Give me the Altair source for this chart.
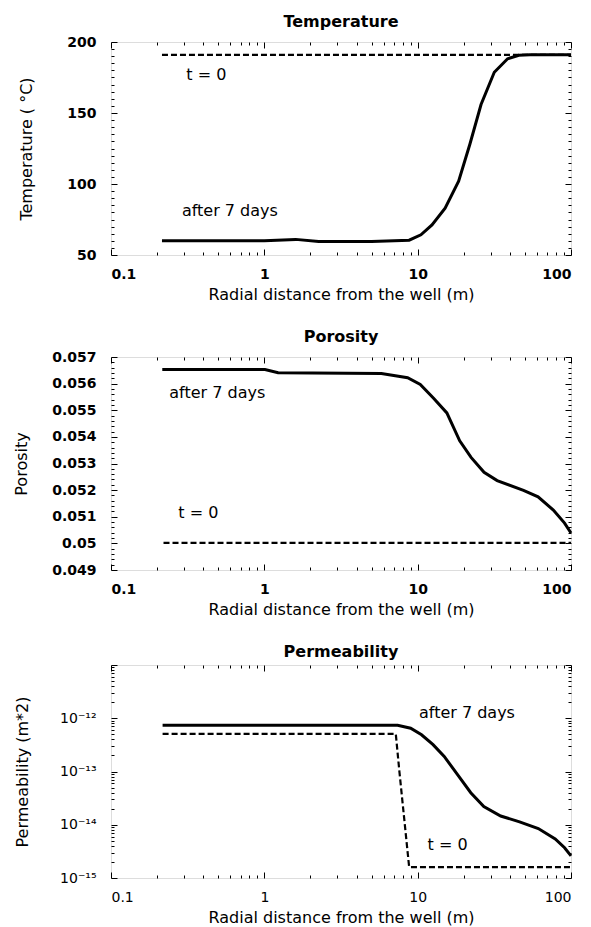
import altair as alt
import pandas as pd
import math

FONT = "DejaVu Sans"
W, H = 460, 213

# ---------------- data ----------------
# Temperature
temp_after_x = [0.215, 1.0, 1.6, 2.26, 5.0, 8.8, 10.5, 12.4, 15.1, 18.5, 21.9, 25.9, 31.6, 38.6, 45.7, 54.0, 100.0]
temp_after_y = [60.0, 60.0, 61.0, 59.5, 59.5, 60.4, 64.2, 71.2, 83.0, 102.0, 128.0, 156.0, 178.7, 188.2, 190.6, 191.0, 191.0]
temp_init_x = [0.215, 100.0]
temp_init_y = [191.0, 191.0]
temp_lab_text = ["t = 0", "after 7 days"]
temp_lab_x = [0.31, 0.29]
temp_lab_y = [177.0, 81.0]
temp_ticks = [50, 100, 150, 200]

# Porosity
por_after_x = [0.216, 1.01, 1.23, 5.8, 8.6, 10.4, 12.7, 15.5, 18.8, 22.3, 27.1, 33.0, 49.0, 61.0, 76.7, 90.8, 100.0]
por_after_y = [0.05653, 0.05653, 0.05641, 0.05638, 0.05622, 0.05597, 0.05545, 0.0549, 0.05385, 0.05323,
               0.05267, 0.05236, 0.05199, 0.05175, 0.05125, 0.05076, 0.05039]
por_init_x = [0.22, 100.0]
por_init_y = [0.05002, 0.05002]
por_lab_text = ["after 7 days", "t = 0"]
por_lab_x = [0.24, 0.275]
por_lab_y = [0.05564, 0.05113]
por_ticks = [0.049, 0.05, 0.051, 0.052, 0.053, 0.054, 0.055, 0.056, 0.057]

# Permeability
perm_after_x = [0.217, 7.4, 9.0, 10.6, 12.6, 14.9, 18.2, 22.2, 27.0, 34.8, 46.2, 61.2, 78.9, 90.8, 100.0]
perm_after_y = [7.4e-13, 7.4e-13, 6.5e-13, 4.9e-13, 3.2e-13, 1.92e-13, 8.7e-14, 4.0e-14, 2.2e-14,
                1.46e-14, 1.13e-14, 8.5e-15, 5.4e-15, 3.7e-15, 2.6e-15]
perm_init_x = [0.217, 7.2, 7.6, 8.8, 100.0]
perm_init_y = [5.1e-13, 5.1e-13, 1.0e-13, 1.6e-15, 1.6e-15]
perm_lab_text = ["after 7 days", "t = 0"]
perm_lab_x = [10.2, 11.6]
perm_lab_y = [1.28e-12, 4.1e-15]
perm_ticks = [1e-15, 1e-14, 1e-13, 1e-12]
perm_tick_labels = ["10⁻¹⁵", "10⁻¹⁴", "10⁻¹³", "10⁻¹²"]

x_ticks = [0.1, 1, 10, 100]
x_title = "Radial distance from the well (m)"


def log_ticks(lo_exp, hi_exp):
    vals = []
    for e in range(lo_exp, hi_exp):
        for m in range(1, 10):
            vals.append(m * 10.0 ** e)
    vals.append(10.0 ** hi_exp)
    return vals


LOG_MAJOR = "abs(log(datum.value)/LN10 - round(log(datum.value)/LN10)) < 0.001"


def tick_axis(orient, offset, values, major_test):
    return alt.Axis(
        orient=orient, offset=offset, values=values, labels=False, domain=False,
        grid=False, title=None, ticks=True, tickColor="black", tickWidth=1,
        tickSize={"condition": {"test": major_test, "value": 6}, "value": 3},
    )


def panel(title, after_x, after_y, init_x, init_y, lab_text, lab_x, lab_y,
          y_scale, y_title, y_label_axis_kw, y_tick_values, y_major_test, label_weight, y_title_pad):
    df_after = pd.DataFrame({"x": after_x, "y": after_y})
    df_init = pd.DataFrame({"x": init_x, "y": init_y})
    df_lab = pd.DataFrame({"x": lab_x, "y": lab_y, "t": lab_text})
    xs = alt.Scale(type="log", domain=[0.1, 100])
    x_tick_values = log_ticks(-1, 2)

    x_lab_axis = alt.Axis(
        orient="bottom", values=x_ticks, format="~g", ticks=False, domain=False, grid=False,
        labelPadding=12, labelFont=FONT, labelFontSize=14, labelFontWeight=label_weight,
        labelColor="black", title=x_title, titleFont=FONT, titleFontSize=16,
        titleFontWeight="normal", titleColor="black", titlePadding=5,
    )
    y_lab_axis = alt.Axis(
        orient="left", ticks=False, domain=False, grid=False, labelPadding=15,
        labelFont=FONT, labelFontSize=14, labelFontWeight=label_weight, labelColor="black",
        title=y_title, titleFont=FONT, titleFontSize=16, titleFontWeight="normal",
        titleColor="black", titlePadding=y_title_pad, **y_label_axis_kw,
    )

    dashed = alt.Chart(df_init).mark_line(
        color="black", strokeWidth=2.2, strokeDash=[6, 3]
    ).encode(
        x=alt.X("x:Q", scale=xs, axis=x_lab_axis),
        y=alt.Y("y:Q", scale=y_scale, axis=y_lab_axis),
    )
    solid = alt.Chart(df_after).mark_line(color="black", strokeWidth=3).encode(
        x=alt.X("x:Q", scale=xs, axis=tick_axis("top", -H, x_tick_values, LOG_MAJOR)),
        y=alt.Y("y:Q", scale=y_scale, axis=tick_axis("right", -W, y_tick_values, y_major_test)),
    )
    labels = alt.Chart(df_lab).mark_text(
        align="left", baseline="middle", font=FONT, fontSize=16, color="black"
    ).encode(
        x=alt.X("x:Q", scale=xs, axis=tick_axis("bottom", -H, x_tick_values, LOG_MAJOR)),
        y=alt.Y("y:Q", scale=y_scale, axis=tick_axis("left", -W, y_tick_values, y_major_test)),
        text="t:N",
    )
    return alt.layer(dashed, solid, labels).resolve_axis(
        x="independent", y="independent"
    ).properties(
        width=W, height=H,
        title=alt.Title(title, font=FONT, fontSize=16, fontWeight="bold", color="black",
                        anchor="middle", offset=5),
    )


p1 = panel(
    "Temperature", temp_after_x, temp_after_y, temp_init_x, temp_init_y,
    temp_lab_text, temp_lab_x, temp_lab_y,
    alt.Scale(domain=[50, 200], nice=False, zero=False), "Temperature ( °C)",
    dict(values=temp_ticks, format="d"),
    list(range(50, 201, 5)), "datum.value % 50 === 0", "bold", 32,
)

por_minor = [round(0.049 + i * 0.0002, 4) for i in range(41)]
p2 = panel(
    "Porosity", por_after_x, por_after_y, por_init_x, por_init_y,
    por_lab_text, por_lab_x, por_lab_y,
    alt.Scale(domain=[0.049, 0.057], nice=False, zero=False), "Porosity",
    dict(values=por_ticks, format="~g"),
    por_minor, "abs(datum.value*1000 - round(datum.value*1000)) < 0.00001", "bold", 22,
)

perm_expr = ""
for v, t in zip(perm_ticks, perm_tick_labels):
    perm_expr += f"abs(log(datum.value)/LN10 - ({math.log10(v):.0f})) < 0.01 ? '{t}' : "
perm_expr += "''"
p3 = panel(
    "Permeability", perm_after_x, perm_after_y, perm_init_x, perm_init_y,
    perm_lab_text, perm_lab_x, perm_lab_y,
    alt.Scale(type="log", domain=[1e-15, 1e-11], nice=False), "Permeability  (m*2)",
    dict(values=perm_ticks, labelExpr=perm_expr),
    log_ticks(-15, -11), LOG_MAJOR, "normal", 29,
)

chart = alt.vconcat(p1, p2, p3, spacing=25).configure_view(
    stroke="black", strokeWidth=1.5
).configure(background="white")

chart.save("out.html", embed_options={"renderer": "svg", "actions": False})
